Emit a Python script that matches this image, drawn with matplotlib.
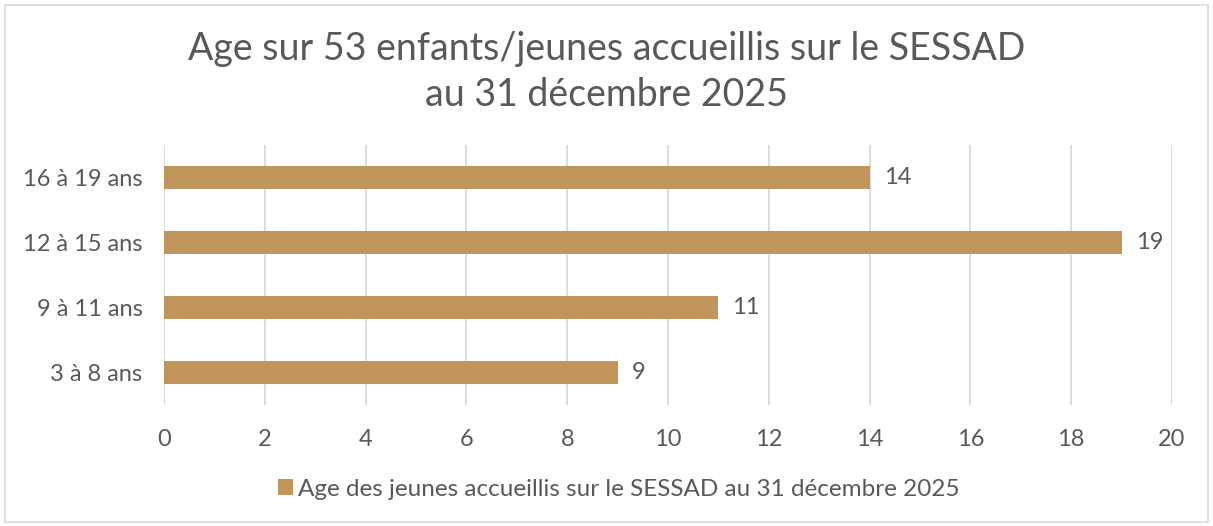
import matplotlib
matplotlib.use("Agg")
import matplotlib.pyplot as plt
from matplotlib.patches import Rectangle

categories = ["3 à 8 ans", "9 à 11 ans", "12 à 15 ans", "16 à 19 ans"]
values = [9, 11, 19, 14]
xticks = [0, 2, 4, 6, 8, 10, 12, 14, 16, 18, 20]
title = "Age sur 53 enfants/jeunes accueillis sur le SESSAD\nau 31 décembre 2025"
series_name = "Age des jeunes accueillis sur le SESSAD au 31 décembre 2025"

BAR = "#C0965A"
TXT = "#595959"
GRID = "#D9D9D9"

plt.rcParams['font.family'] = ['Lato', 'DejaVu Sans']

fig = plt.figure(figsize=(12.13, 5.26), dpi=100)
fig.patches.append(Rectangle((5/1213, 4/526), 1203/1213, 517/526, transform=fig.transFigure,
                             fill=False, edgecolor=GRID, linewidth=1.2))
ax = fig.add_axes([164/1213, 1-405/526, (1172-164)/1213, (405-145)/526])

y = list(range(len(categories)))
bars = ax.barh(y, values, height=0.34, color=BAR, label=series_name, zorder=3)
for yi, v in zip(y, values):
    ax.text(v + 0.28, yi, str(v), va="center", ha="left", fontsize=17, color=TXT)

ax.set_xlim(0, 20)
ax.set_ylim(-0.5, 3.5)
ax.set_xticks(xticks)
ax.set_xticklabels([str(t) for t in xticks])
ax.set_yticks(y)
ax.set_yticklabels(categories)
ax.tick_params(axis="both", length=0, labelsize=17, labelcolor=TXT)
ax.tick_params(axis="x", pad=17)
ax.tick_params(axis="y", pad=15.5)
ax.grid(axis="x", color=GRID, linewidth=1.3, zorder=0)
for s in ax.spines.values():
    s.set_visible(False)

fig.text(0.5, 1-72/526, title, ha="center", va="center", fontsize=27, color=TXT,
         linespacing=1.32)

fig.legend(handles=[bars], labels=[series_name], loc="center", bbox_to_anchor=(619/1213, 1-489/526),
           frameon=False, fontsize=17.5, labelcolor=TXT, handlelength=0.6, handleheight=0.6,
           handletextpad=0.2)

fig.savefig("out.png", dpi=100)
